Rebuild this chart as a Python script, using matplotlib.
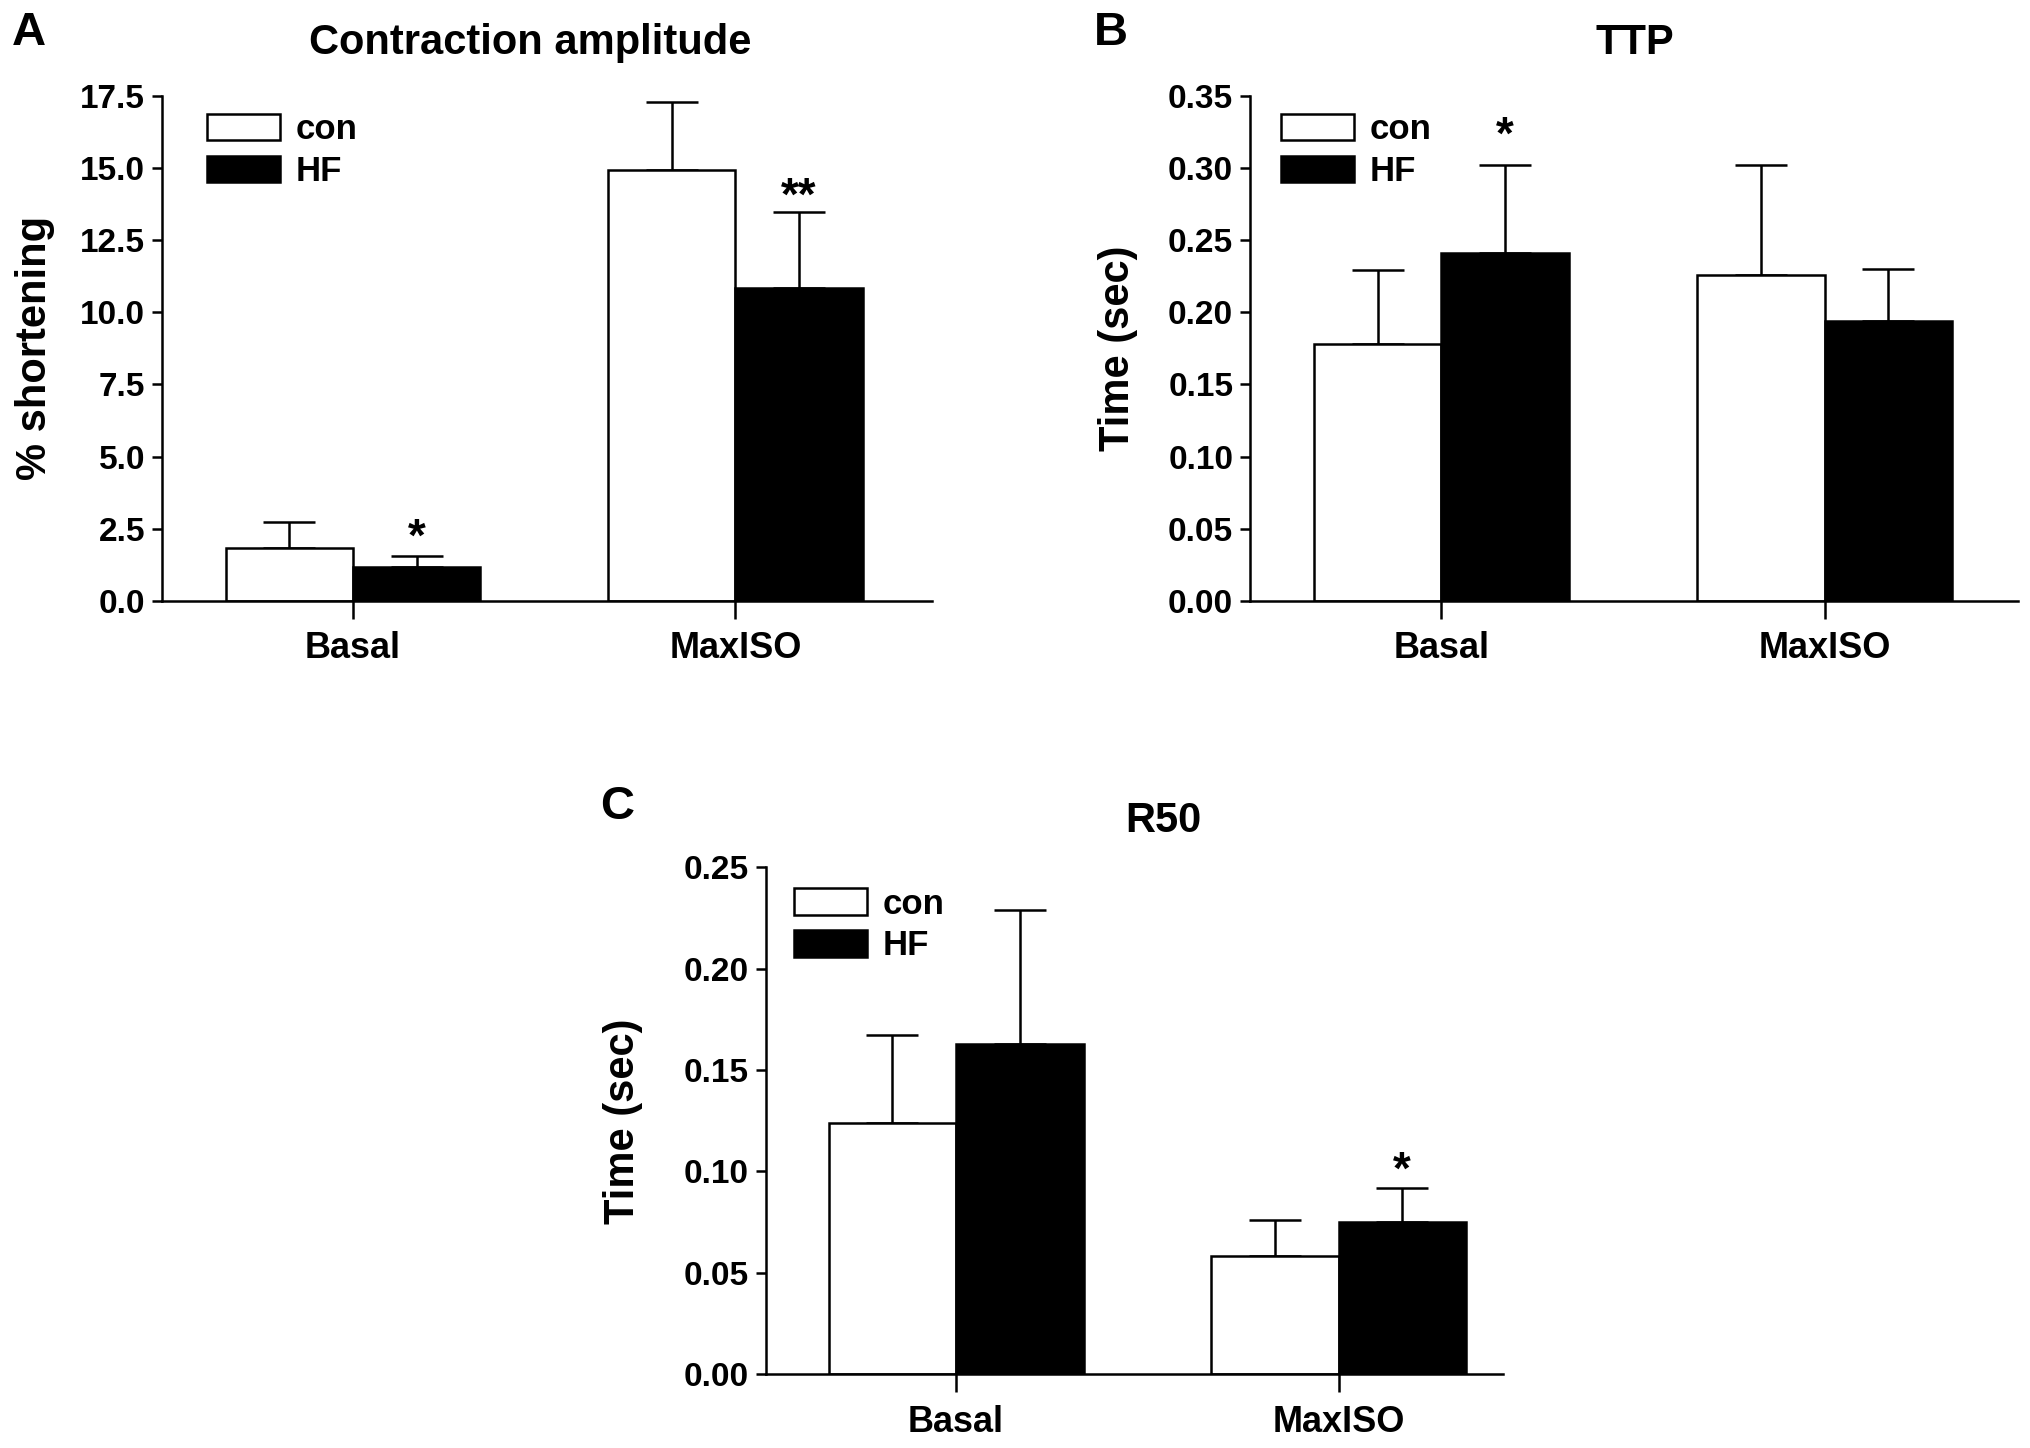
import numpy as np
import matplotlib.pyplot as plt

plt.rcParams['font.family'] = ['Liberation Sans', 'DejaVu Sans']
plt.rcParams['font.weight'] = 'bold'

groups = ['Basal', 'MaxISO']
series = ['con', 'HF']

# Contraction amplitude (% shortening)
amp_con = [1.84, 14.92]
amp_con_err = [0.90, 2.35]
amp_hf = [1.16, 10.84]
amp_hf_err = [0.40, 2.62]

# TTP (sec)
ttp_con = [0.178, 0.226]
ttp_con_err = [0.051, 0.076]
ttp_hf = [0.241, 0.194]
ttp_hf_err = [0.061, 0.036]

# R50 (sec)
r50_con = [0.124, 0.0585]
r50_con_err = [0.0435, 0.0175]
r50_hf = [0.163, 0.0752]
r50_hf_err = [0.066, 0.0168]

panels = [
    dict(letter='A', title='Contraction amplitude', ylabel='% shortening',
         con=amp_con, con_err=amp_con_err, hf=amp_hf, hf_err=amp_hf_err,
         ylim=17.5, yticks=np.arange(0, 17.6, 2.5), fmt='%.1f',
         stars=[(0, '*', 4), (1, '**', 2)]),
    dict(letter='B', title='TTP', ylabel='Time (sec)',
         con=ttp_con, con_err=ttp_con_err, hf=ttp_hf, hf_err=ttp_hf_err,
         ylim=0.35, yticks=np.arange(0, 0.351, 0.05), fmt='%.2f',
         stars=[(0, '*', 12)]),
    dict(letter='C', title='R50', ylabel='Time (sec)',
         con=r50_con, con_err=r50_con_err, hf=r50_hf, hf_err=r50_hf_err,
         ylim=0.25, yticks=np.arange(0, 0.251, 0.05), fmt='%.2f',
         stars=[(1, '*', 3)]),
]

# axes rectangles [left, bottom, width, height] in figure fractions
rects = [[0.0797, 0.585, 0.3793, 0.349],
         [0.6154, 0.585, 0.3782, 0.349],
         [0.3770, 0.051, 0.3630, 0.350]]
xlims = [(-0.5, 1.515), (-0.5, 1.505), (-0.498, 1.43)]
letter_pos = [(0.014, 0.977), (0.547, 0.977), (0.304, 0.443)]
title_pos = [(0.261, 0.970), (0.805, 0.970), (0.573, 0.433)]
legend_anchor = [(0.059, 0.965), (0.040, 0.965), (0.039, 0.960)]
ylabel_x = [-0.139, -0.145, -0.167]

fig = plt.figure(figsize=(20.31, 14.48), dpi=100)
w = 1 / 3
lw = 1.8
x = np.arange(len(groups))

for i, p in enumerate(panels):
    ax = fig.add_axes(rects[i])
    b1 = ax.bar(x - w / 2, p['con'], w, color='white', edgecolor='black',
                linewidth=lw, label='con', zorder=2)
    b2 = ax.bar(x + w / 2, p['hf'], w, color='black', edgecolor='black',
                linewidth=lw, label='HF', zorder=2)
    ax.errorbar(x - w / 2, p['con'], yerr=[np.zeros(2), p['con_err']],
                fmt='none', ecolor='black', elinewidth=lw, capsize=19,
                capthick=lw, zorder=1)
    ax.errorbar(x + w / 2, p['hf'], yerr=[np.zeros(2), p['hf_err']],
                fmt='none', ecolor='black', elinewidth=lw, capsize=19,
                capthick=lw, zorder=1)
    for g, s, off in p['stars']:
        top = p['hf'][g] + p['hf_err'][g]
        ax.annotate(s, (x[g] + w / 2, top), xytext=(0, off),
                    textcoords='offset points', ha='center', va='baseline',
                    fontsize=33, fontweight='bold')

    ax.set_xlim(*xlims[i])
    ax.set_ylim(0, p['ylim'])
    ax.set_yticks(p['yticks'])
    ax.set_yticklabels([p['fmt'] % v for v in p['yticks']])
    ax.set_xticks(x)
    ax.set_xticklabels(groups)
    for s in ['top', 'right']:
        ax.spines[s].set_visible(False)
    for s in ['left', 'bottom']:
        ax.spines[s].set_linewidth(lw)
    ax.tick_params(axis='y', length=7.5, width=lw, pad=4.5, labelsize=24)
    ax.tick_params(axis='x', length=13, width=lw, pad=9, labelsize=26)
    for t in ax.get_xticklabels() + ax.get_yticklabels():
        t.set_fontweight('bold')
    ax.set_ylabel(p['ylabel'], fontsize=30, fontweight='bold')
    ax.yaxis.set_label_coords(ylabel_x[i], 0.5)

    ax.legend(handles=[b1, b2], loc='upper left', bbox_to_anchor=legend_anchor[i],
              frameon=False, fontsize=25, handlelength=2.1, handleheight=0.8,
              handletextpad=0.45, labelspacing=0.25, borderpad=0, borderaxespad=0)

    fig.text(letter_pos[i][0], letter_pos[i][1], p['letter'], fontsize=34,
             fontweight='bold', ha='center', va='center')
    fig.text(title_pos[i][0], title_pos[i][1], p['title'], fontsize=30,
             fontweight='bold', ha='center', va='center')

fig.savefig('out.png', dpi=100)
